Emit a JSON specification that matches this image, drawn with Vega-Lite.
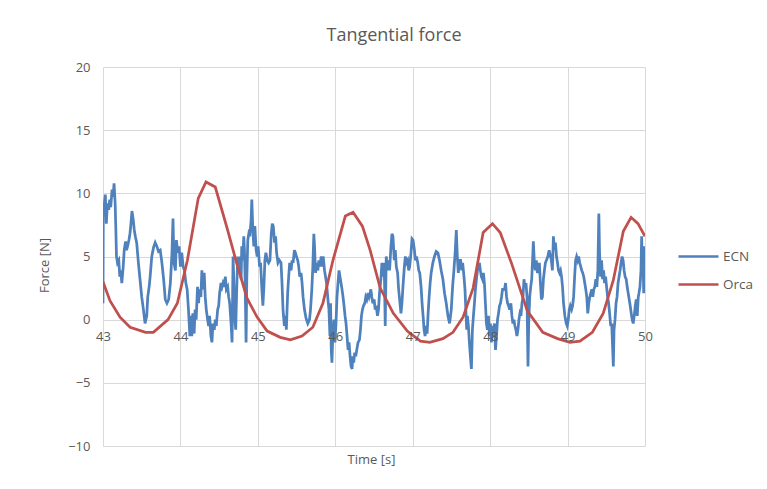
{
  "$schema": "https://vega.github.io/schema/vega-lite/v6.json",
  "autosize": "none",
  "width": 542,
  "height": 379,
  "padding": {"left": 103, "top": 67, "right": 122, "bottom": 43},
  "background": "white",
  "title": {
    "text": "Tangential force",
    "font": "Open Sans",
    "fontSize": 18,
    "fontWeight": "normal",
    "color": "#595959",
    "anchor": "middle",
    "dx": 20,
    "offset": 16
  },
  "datasets": {
    "ecn": [
      {"t":43.000,"f":1.3},{"t":43.004,"f":9.0},{"t":43.013,"f":8.9},{"t":43.030,"f":9.9},{"t":43.043,"f":7.6},{"t":43.057,"f":9.2},{"t":43.074,"f":8.7},{"t":43.087,"f":9.5},{"t":43.100,"f":8.9},{"t":43.117,"f":10.3},{"t":43.130,"f":9.7},{"t":43.143,"f":10.8},{"t":43.157,"f":9.2},{"t":43.165,"f":7.4},{"t":43.174,"f":5.0},{"t":43.187,"f":4.5},{"t":43.204,"f":4.7},{"t":43.217,"f":3.4},{"t":43.230,"f":3.9},{"t":43.243,"f":2.9},{"t":43.261,"f":4.2},{"t":43.274,"f":5.5},{"t":43.291,"f":6.2},{"t":43.304,"f":5.5},{"t":43.317,"f":5.8},{"t":43.335,"f":6.3},{"t":43.348,"f":6.8},{"t":43.361,"f":7.6},{"t":43.374,"f":8.6},{"t":43.391,"f":7.9},{"t":43.404,"f":7.1},{"t":43.417,"f":6.6},{"t":43.435,"f":6.1},{"t":43.457,"f":4.5},{"t":43.478,"f":3.2},{"t":43.500,"f":1.8},{"t":43.522,"f":0.8},{"t":43.543,"f":-0.3},{"t":43.565,"f":0.3},{"t":43.578,"f":1.8},{"t":43.596,"f":2.6},{"t":43.609,"f":3.4},{"t":43.630,"f":5.0},{"t":43.652,"f":5.7},{"t":43.674,"f":6.1},{"t":43.696,"f":5.8},{"t":43.717,"f":5.4},{"t":43.739,"f":5.5},{"t":43.761,"f":4.5},{"t":43.783,"f":3.2},{"t":43.804,"f":1.6},{"t":43.826,"f":1.3},{"t":43.848,"f":1.6},{"t":43.870,"f":2.9},{"t":43.891,"f":5.3},{"t":43.904,"f":8.0},{"t":43.917,"f":4.5},{"t":43.935,"f":3.9},{"t":43.948,"f":6.3},{"t":43.965,"f":5.3},{"t":43.983,"f":5.8},{"t":44.000,"f":4.2},{"t":44.017,"f":5.3},{"t":44.035,"f":4.2},{"t":44.052,"f":3.9},{"t":44.070,"f":2.9},{"t":44.087,"f":2.4},{"t":44.104,"f":0.8},{"t":44.122,"f":-1.3},
      {"t":44.134,"f":0.3},{"t":44.147,"f":-1.3},{"t":44.160,"f":0.5},{"t":44.177,"f":-1.1},{"t":44.190,"f":0.8},{"t":44.203,"f":0.0},{"t":44.221,"f":2.6},{"t":44.234,"f":1.3},{"t":44.247,"f":2.4},{"t":44.264,"f":1.8},{"t":44.277,"f":3.9},{"t":44.290,"f":2.4},{"t":44.307,"f":3.7},{"t":44.320,"f":1.8},{"t":44.334,"f":0.8},{"t":44.351,"f":0.0},{"t":44.364,"f":-0.5},{"t":44.377,"f":0.3},{"t":44.394,"f":-1.3},{"t":44.407,"f":-1.8},{"t":44.420,"f":-0.3},{"t":44.437,"f":-0.8},{"t":44.450,"f":0.0},{"t":44.463,"f":-0.5},{"t":44.481,"f":0.8},{"t":44.494,"f":1.1},{"t":44.506,"f":2.1},{"t":44.524,"f":2.9},{"t":44.537,"f":2.6},{"t":44.550,"f":2.9},{"t":44.567,"f":2.6},{"t":44.580,"f":3.4},{"t":44.593,"f":2.4},{"t":44.610,"f":2.6},{"t":44.623,"f":1.8},{"t":44.636,"f":1.3},{"t":44.654,"f":-0.3},{"t":44.667,"f":-1.8},{"t":44.680,"f":5.0},{"t":44.688,"f":3.4},{"t":44.701,"f":0.3},{"t":44.714,"f":-0.8},{"t":44.727,"f":2.4},{"t":44.740,"f":5.0},{"t":44.753,"f":3.9},{"t":44.766,"f":5.0},{"t":44.784,"f":3.2},{"t":44.792,"f":5.8},{"t":44.805,"f":4.7},{"t":44.818,"f":6.6},{"t":44.827,"f":5.5},{"t":44.835,"f":3.2},{"t":44.848,"f":-1.8},{"t":44.857,"f":3.2},{"t":44.870,"f":6.3},{"t":44.883,"f":6.8},{"t":44.896,"f":6.6},{"t":44.913,"f":7.9},{"t":44.922,"f":9.5},{"t":44.935,"f":7.1},{"t":44.948,"f":5.8},{"t":44.961,"f":7.4},{"t":44.978,"f":5.5},{"t":44.991,"f":5.0},{"t":45.004,"f":5.8},{"t":45.022,"f":4.2},{"t":45.035,"f":4.5},{"t":45.052,"f":2.4},{"t":45.065,"f":1.1},{"t":45.078,"f":2.6},{"t":45.091,"f":4.7},{"t":45.104,"f":5.3},{"t":45.121,"f":4.7},{"t":45.139,"f":4.5},{"t":45.156,"f":4.7},{"t":45.173,"f":6.8},{"t":45.186,"f":7.6},{"t":45.199,"f":7.4},{"t":45.216,"f":6.1},{"t":45.229,"f":6.6},{"t":45.242,"f":5.3},{"t":45.260,"f":4.5},{"t":45.277,"f":4.7},
      {"t":45.299,"f":4.5},{"t":45.312,"f":2.9},{"t":45.325,"f":0.8},{"t":45.342,"f":-0.5},{"t":45.355,"f":0.3},{"t":45.368,"f":-0.8},{"t":45.385,"f":2.1},{"t":45.398,"f":3.4},{"t":45.411,"f":4.5},{"t":45.429,"f":3.9},{"t":45.442,"f":4.7},{"t":45.455,"f":4.5},{"t":45.472,"f":5.5},{"t":45.485,"f":5.3},{"t":45.498,"f":5.0},{"t":45.515,"f":4.7},{"t":45.528,"f":4.2},{"t":45.541,"f":3.4},{"t":45.558,"f":3.7},{"t":45.571,"f":2.9},{"t":45.584,"f":1.8},{"t":45.602,"f":0.8},{"t":45.623,"f":0.1},{"t":45.645,"f":-0.3},{"t":45.667,"f":0.0},{"t":45.680,"f":0.8},{"t":45.697,"f":2.4},{"t":45.710,"f":4.2},{"t":45.723,"f":6.8},{"t":45.732,"f":5.8},{"t":45.745,"f":3.7},{"t":45.758,"f":4.5},{"t":45.775,"f":3.9},{"t":45.788,"f":4.7},{"t":45.801,"f":4.2},{"t":45.818,"f":5.0},{"t":45.831,"f":4.2},{"t":45.844,"f":5.0},{"t":45.861,"f":3.9},{"t":45.874,"f":3.4},{"t":45.887,"f":2.9},{"t":45.905,"f":1.6},{"t":45.918,"f":0.8},{"t":45.931,"f":-1.3},{"t":45.939,"f":1.3},{"t":45.948,"f":-2.4},{"t":45.957,"f":-3.4},{"t":45.970,"f":-0.8},{"t":45.983,"f":0.0},{"t":45.996,"f":-1.8},{"t":46.009,"f":-0.3},{"t":46.022,"f":1.8},{"t":46.035,"f":2.9},{"t":46.048,"f":3.9},{"t":46.061,"f":3.4},{"t":46.074,"f":2.9},{"t":46.087,"f":2.4},{"t":46.100,"f":1.8},{"t":46.113,"f":1.1},{"t":46.126,"f":0.3},{"t":46.139,"f":-0.3},{"t":46.152,"f":-1.3},{"t":46.165,"f":-2.4},{"t":46.178,"f":-1.8},{"t":46.191,"f":-2.9},{"t":46.204,"f":-3.7},{"t":46.217,"f":-3.9},{"t":46.226,"f":-2.9},{"t":46.238,"f":-3.4},{"t":46.251,"f":-2.6},{"t":46.264,"f":-2.9},{"t":46.277,"f":-2.4},{"t":46.294,"f":-1.8},{"t":46.312,"f":-1.6},{"t":46.325,"f":-0.8},{"t":46.338,"f":0.3},{"t":46.351,"f":0.8},{"t":46.364,"f":1.1},{"t":46.381,"f":1.3},{"t":46.394,"f":1.8},{"t":46.407,"f":1.6},{"t":46.424,"f":2.1},{"t":46.437,"f":1.8},{"t":46.450,"f":2.1},
      {"t":46.459,"f":2.4},{"t":46.472,"f":1.8},{"t":46.485,"f":1.3},{"t":46.502,"f":1.6},{"t":46.515,"f":0.8},{"t":46.528,"f":1.1},{"t":46.545,"f":0.3},{"t":46.558,"f":0.8},{"t":46.571,"f":2.1},{"t":46.589,"f":3.2},{"t":46.602,"f":4.5},{"t":46.615,"f":3.4},{"t":46.632,"f":4.5},{"t":46.645,"f":-0.5},{"t":46.658,"f":5.0},{"t":46.675,"f":3.9},{"t":46.688,"f":4.7},{"t":46.701,"f":3.9},{"t":46.719,"f":5.8},{"t":46.732,"f":6.8},{"t":46.745,"f":6.6},{"t":46.762,"f":4.7},{"t":46.775,"f":5.5},{"t":46.788,"f":4.2},{"t":46.805,"f":3.7},{"t":46.818,"f":2.4},{"t":46.831,"f":1.6},{"t":46.848,"f":0.5},{"t":46.861,"f":1.3},{"t":46.874,"f":2.6},{"t":46.892,"f":4.2},{"t":46.905,"f":5.0},{"t":46.918,"f":4.5},{"t":46.935,"f":4.7},{"t":46.948,"f":3.9},{"t":46.961,"f":4.2},{"t":46.978,"f":5.3},{"t":46.991,"f":6.4},{"t":47.004,"f":6.3},{"t":47.022,"f":5.5},{"t":47.035,"f":4.7},{"t":47.048,"f":5.0},{"t":47.065,"f":4.5},{"t":47.078,"f":3.9},{"t":47.091,"f":3.7},{"t":47.108,"f":2.6},{"t":47.121,"f":1.3},{"t":47.134,"f":0.3},{"t":47.147,"f":-0.8},{"t":47.160,"f":-1.3},{"t":47.173,"f":-0.5},{"t":47.186,"f":-1.1},{"t":47.199,"f":0.5},{"t":47.212,"f":1.8},{"t":47.225,"f":2.9},{"t":47.238,"f":3.7},{"t":47.260,"f":4.5},{"t":47.281,"f":5.0},{"t":47.303,"f":5.4},{"t":47.325,"f":5.3},{"t":47.346,"f":4.7},{"t":47.368,"f":3.9},{"t":47.390,"f":3.2},{"t":47.411,"f":2.1},{"t":47.433,"f":1.3},{"t":47.455,"f":0.3},{"t":47.476,"f":-0.3},{"t":47.498,"f":0.8},{"t":47.515,"f":2.6},{"t":47.532,"f":3.9},{"t":47.550,"f":5.5},{"t":47.563,"f":7.1},{"t":47.576,"f":5.0},{"t":47.589,"f":3.7},{"t":47.602,"f":4.7},
      {"t":47.619,"f":4.7},{"t":47.632,"f":3.9},{"t":47.645,"f":4.5},{"t":47.662,"f":3.4},{"t":47.675,"f":2.4},{"t":47.688,"f":0.5},{"t":47.697,"f":-0.8},{"t":47.706,"f":0.3},{"t":47.719,"f":-0.5},{"t":47.732,"f":-1.8},{"t":47.745,"f":-2.9},{"t":47.758,"f":-3.9},{"t":47.771,"f":-0.8},{"t":47.784,"f":0.3},{"t":47.797,"f":1.3},{"t":47.810,"f":2.4},{"t":47.823,"f":3.2},{"t":47.836,"f":3.9},{"t":47.849,"f":4.2},{"t":47.862,"f":4.5},{"t":47.874,"f":3.9},{"t":47.887,"f":3.4},{"t":47.900,"f":3.2},{"t":47.913,"f":3.7},{"t":47.926,"f":2.9},{"t":47.939,"f":1.3},{"t":47.952,"f":-0.3},{"t":47.965,"f":-0.8},{"t":47.978,"f":0.3},{"t":47.991,"f":-1.3},{"t":48.004,"f":-0.3},{"t":48.017,"f":-1.8},{"t":48.030,"f":-0.5},{"t":48.043,"f":-0.8},{"t":48.056,"f":-0.3},{"t":48.069,"f":-2.4},{"t":48.082,"f":-1.3},{"t":48.095,"f":0.0},{"t":48.108,"f":0.5},{"t":48.121,"f":1.1},{"t":48.134,"f":1.3},{"t":48.147,"f":1.8},{"t":48.160,"f":2.4},{"t":48.173,"f":2.4},{"t":48.186,"f":2.4},{"t":48.199,"f":2.9},{"t":48.212,"f":1.8},{"t":48.225,"f":1.3},{"t":48.238,"f":1.1},{"t":48.251,"f":0.8},{"t":48.268,"f":1.3},{"t":48.281,"f":0.3},{"t":48.294,"f":-0.3},{"t":48.307,"f":0.0},{"t":48.320,"f":-0.5},{"t":48.333,"f":-0.8},{"t":48.346,"f":-1.3},{"t":48.359,"f":-0.8},{"t":48.372,"f":0.0},{"t":48.385,"f":0.5},{"t":48.398,"f":0.3},{"t":48.411,"f":1.3},{"t":48.424,"f":1.8},{"t":48.437,"f":3.2},{"t":48.450,"f":2.6},{"t":48.463,"f":2.9},{"t":48.476,"f":1.8},{"t":48.489,"f":-3.7},{"t":48.498,"f":-0.3},{"t":48.511,"f":1.8},{"t":48.524,"f":2.6},{"t":48.537,"f":3.2},{"t":48.550,"f":5.0},{"t":48.558,"f":6.2},{"t":48.571,"f":4.5},{"t":48.584,"f":3.9},{"t":48.597,"f":4.7},{"t":48.610,"f":3.7},{"t":48.623,"f":3.9},{"t":48.636,"f":4.5},{"t":48.649,"f":2.9},{"t":48.662,"f":1.6},{"t":48.675,"f":1.8},{"t":48.688,"f":3.2},{"t":48.701,"f":3.9},{"t":48.714,"f":4.5},{"t":48.727,"f":4.7},{"t":48.745,"f":5.0},{"t":48.762,"f":5.5},
      {"t":48.791,"f":4.7},{"t":48.804,"f":3.9},{"t":48.817,"f":6.6},{"t":48.830,"f":5.5},{"t":48.843,"f":6.1},{"t":48.857,"f":5.0},{"t":48.870,"f":4.5},{"t":48.883,"f":3.9},{"t":48.896,"f":3.7},{"t":48.909,"f":3.9},{"t":48.922,"f":3.4},{"t":48.935,"f":2.6},{"t":48.948,"f":1.3},{"t":48.965,"f":0.3},{"t":48.983,"f":-0.3},{"t":48.996,"f":-0.5},{"t":49.009,"f":0.0},{"t":49.022,"f":0.8},{"t":49.035,"f":1.1},{"t":49.052,"f":0.8},{"t":49.065,"f":1.1},{"t":49.078,"f":1.8},{"t":49.091,"f":3.4},{"t":49.104,"f":4.7},{"t":49.117,"f":5.0},{"t":49.130,"f":4.7},{"t":49.143,"f":5.0},{"t":49.157,"f":4.5},{"t":49.170,"f":4.2},{"t":49.183,"f":3.9},{"t":49.196,"f":3.7},{"t":49.209,"f":3.4},{"t":49.222,"f":2.9},{"t":49.235,"f":2.4},{"t":49.248,"f":1.8},{"t":49.261,"f":0.5},{"t":49.274,"f":1.3},{"t":49.287,"f":1.8},{"t":49.300,"f":2.1},{"t":49.313,"f":2.4},{"t":49.326,"f":1.8},{"t":49.339,"f":2.4},{"t":49.352,"f":2.6},{"t":49.365,"f":3.2},{"t":49.378,"f":2.6},{"t":49.391,"f":3.9},{"t":49.404,"f":8.4},{"t":49.413,"f":5.3},{"t":49.426,"f":3.4},{"t":49.439,"f":4.7},{"t":49.452,"f":3.2},{"t":49.465,"f":3.9},{"t":49.478,"f":2.9},{"t":49.491,"f":3.4},{"t":49.504,"f":2.6},{"t":49.517,"f":1.8},{"t":49.530,"f":1.3},{"t":49.543,"f":0.5},{"t":49.557,"f":-0.5},{"t":49.570,"f":-0.3},{"t":49.583,"f":-2.4},{"t":49.591,"f":-3.7},{"t":49.600,"f":-0.8},{"t":49.613,"f":0.0},{"t":49.626,"f":1.3},{"t":49.639,"f":1.8},{"t":49.652,"f":2.9},{"t":49.665,"f":3.4},{"t":49.678,"f":3.9},{"t":49.691,"f":4.5},{"t":49.704,"f":5.0},{"t":49.717,"f":4.7},{"t":49.730,"f":3.9},{"t":49.743,"f":3.4},{"t":49.757,"f":3.2},{"t":49.770,"f":2.6},{"t":49.783,"f":2.1},{"t":49.796,"f":1.6},{"t":49.809,"f":1.1},{"t":49.822,"f":0.5},{"t":49.835,"f":0.0},{"t":49.848,"f":-0.3},{"t":49.861,"f":0.3},{"t":49.874,"f":1.1},{"t":49.887,"f":1.6},{"t":49.900,"f":0.3},{"t":49.913,"f":1.8},{"t":49.922,"f":2.1},{"t":49.935,"f":2.6},{"t":49.948,"f":3.9},{"t":49.957,"f":6.6},{"t":49.965,"f":3.9},{"t":49.974,"f":5.5},{"t":49.983,"f":2.1},{"t":49.991,"f":5.8},{"t":50.000,"f":3.9}
    ],
    "orca": [
      {"t":43.00,"f":3.0},{"t":43.09,"f":1.5},{"t":43.22,"f":0.2},{"t":43.35,"f":-0.6},{"t":43.55,"f":-1.0},{"t":43.65,"f":-1.0},{"t":43.84,"f":0.0},{"t":43.96,"f":1.3},{"t":44.09,"f":4.7},{"t":44.23,"f":9.6},{"t":44.33,"f":10.9},{"t":44.45,"f":10.5},{"t":44.60,"f":7.3},{"t":44.73,"f":4.4},{"t":44.86,"f":1.7},{"t":44.99,"f":0.2},{"t":45.12,"f":-0.9},{"t":45.29,"f":-1.4},{"t":45.42,"f":-1.6},{"t":45.57,"f":-1.3},{"t":45.71,"f":-0.6},{"t":45.84,"f":1.3},{"t":45.97,"f":4.7},{"t":46.13,"f":8.2},{"t":46.23,"f":8.5},{"t":46.35,"f":7.4},{"t":46.45,"f":5.5},{"t":46.58,"f":2.5},{"t":46.75,"f":0.5},{"t":46.93,"f":-0.9},{"t":47.10,"f":-1.7},{"t":47.22,"f":-1.8},{"t":47.39,"f":-1.5},{"t":47.52,"f":-1.0},{"t":47.65,"f":0.2},{"t":47.78,"f":2.5},{"t":47.91,"f":6.9},{"t":48.03,"f":7.6},{"t":48.13,"f":6.9},{"t":48.28,"f":4.4},{"t":48.48,"f":0.7},{"t":48.68,"f":-1.0},{"t":48.87,"f":-1.5},{"t":49.03,"f":-1.8},{"t":49.16,"f":-1.7},{"t":49.32,"f":-1.0},{"t":49.46,"f":0.5},{"t":49.59,"f":3.1},{"t":49.72,"f":7.0},{"t":49.82,"f":8.1},{"t":49.91,"f":7.6},{"t":50.00,"f":6.6}
    ]
  },
  "layer": [
    {
      "data": {"name": "ecn"},
      "mark": {"type": "line", "strokeWidth": 2.75, "clip": true},
      "encoding": {
        "x": {
          "field": "t",
          "type": "quantitative",
          "scale": {"domain": [43, 50], "nice": false, "zero": false},
          "axis": {
            "orient": "bottom",
            "title": null,
            "values": [43, 44, 45, 46, 47, 48, 49, 50],
            "domain": false,
            "ticks": false,
            "labels": false,
            "grid": true
          }
        },
        "color": {"datum": "ECN"}
      }
    },
    {
      "data": {"name": "orca"},
      "mark": {"type": "line", "strokeWidth": 2.75, "clip": true},
      "encoding": {
        "x": {
          "field": "t",
          "type": "quantitative",
          "scale": {"domain": [43, 50], "nice": false, "zero": false},
          "axis": {
            "orient": "bottom",
            "title": "Time [s]",
            "values": [43, 44, 45, 46, 47, 48, 49, 50],
            "offset": -126.3,
            "domain": false,
            "ticks": false,
            "grid": false,
            "labelFlush": false,
            "labelPadding": 11,
            "titleY": 140,
            "titleBaseline": "middle",
            "titleX": 268,
            "zindex": 1
          }
        },
        "color": {"datum": "Orca"}
      }
    }
  ],
  "resolve": {"axis": {"x": "independent"}, "scale": {"x": "shared"}},
  "encoding": {
    "y": {
      "field": "f",
      "type": "quantitative",
      "scale": {"domain": [-10, 20], "nice": false},
      "axis": {
        "title": "Force [N]",
        "values": [-10, -5, 0, 5, 10, 15, 20],
        "domain": false,
        "ticks": false,
        "grid": true,
        "labelPadding": 13,
        "titlePadding": 16,
        "titleY": 198
      }
    },
    "color": {
      "type": "nominal",
      "scale": {"domain": ["ECN", "Orca"], "range": ["#4F81BD", "#C0504D"]},
      "legend": {
        "title": null,
        "orient": "none",
        "legendX": 574,
        "legendY": 168,
        "symbolType": "stroke",
        "symbolSize": 1600,
        "symbolStrokeWidth": 2.5,
        "rowPadding": -15,
        "labelOffset": 3
      }
    }
  },
  "config": {
    "view": {"stroke": null},
    "axis": {
      "labelFont": "Open Sans",
      "labelFontSize": 13,
      "labelColor": "#595959",
      "titleFont": "Open Sans",
      "titleFontSize": 13,
      "titleFontWeight": "normal",
      "titleColor": "#595959",
      "gridColor": "#D9D9D9",
      "gridWidth": 1,
      "gridOpacity": 1
    },
    "legend": {
      "labelFont": "Open Sans",
      "labelFontSize": 13.5,
      "labelColor": "#595959"
    }
  }
}
